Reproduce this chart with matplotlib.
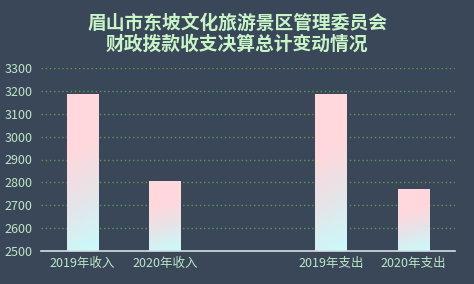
import numpy as np
import matplotlib.pyplot as plt
from matplotlib.colors import LinearSegmentedColormap

plt.rcParams['font.family'] = ['Noto Sans CJK SC', 'DejaVu Sans']

# 收支决算数据（万元），中间留一个空位分隔收入和支出
categories = ['2019年收入', '2020年收入', '', '2019年支出', '2020年支出']
values = [3182, 2806, np.nan, 3182, 2771]

bg = '#3a4759'
label_color = '#bfe6c6'

fig = plt.figure(figsize=(4.74, 2.84), dpi=100, facecolor=bg)
ax = fig.add_axes([41/474, 33/284, 414/474, 183/284], facecolor=bg)
ax.set_axisbelow(True)

x = np.arange(len(categories))
bars = ax.bar(x, values, width=0.38, color='none', zorder=3)

# 粉色到青色的渐变填充
cmap = LinearSegmentedColormap.from_list('pc', [(0, '#c8fbfb'), (0.35, '#e6e4e8'),
                                                (0.65, '#ffd8dd'), (1, '#ffd8dd')])
for b in bars:
    if np.isnan(b.get_height()):
        continue
    x0, y0 = b.get_x(), b.get_y()
    w, h = b.get_width(), b.get_height()
    gx, gy = np.meshgrid(np.linspace(0, 1, 50), np.linspace(0, 1, 200))
    grad = gy - 0.12 * gx
    ax.imshow(grad, extent=[x0, x0 + w, 2500, y0 + h], origin='lower', cmap=cmap,
              aspect='auto', zorder=3, vmin=-0.12, vmax=1)

ax.set_xlim(-0.5, len(categories) - 0.5)
ax.set_ylim(2500, 3300)
ax.set_yticks(np.arange(2500, 3301, 100))
ax.set_xticks(x)
ax.set_xticklabels(categories)

ax.yaxis.grid(True, linestyle=(0, (1, 2)), color='#5a9a4a', linewidth=1, zorder=0)
for s in ['top', 'right', 'left']:
    ax.spines[s].set_visible(False)
ax.spines['bottom'].set_color('#d8dde0')
ax.spines['bottom'].set_linewidth(1.2)
ax.spines['bottom'].set_zorder(4)
ax.tick_params(length=0, colors=label_color, labelsize=9)
ax.tick_params(axis='x', pad=4)
ax.tick_params(axis='y', pad=6)

fig.text(0.5, 0.88, '眉山市东坡文化旅游景区管理委员会\n财政拨款收支决算总计变动情况',
         ha='center', va='center', fontsize=13.5, fontweight='bold',
         color='#c8f5c8', linespacing=1.15)

fig.savefig('out.png', dpi=100, facecolor=bg)
